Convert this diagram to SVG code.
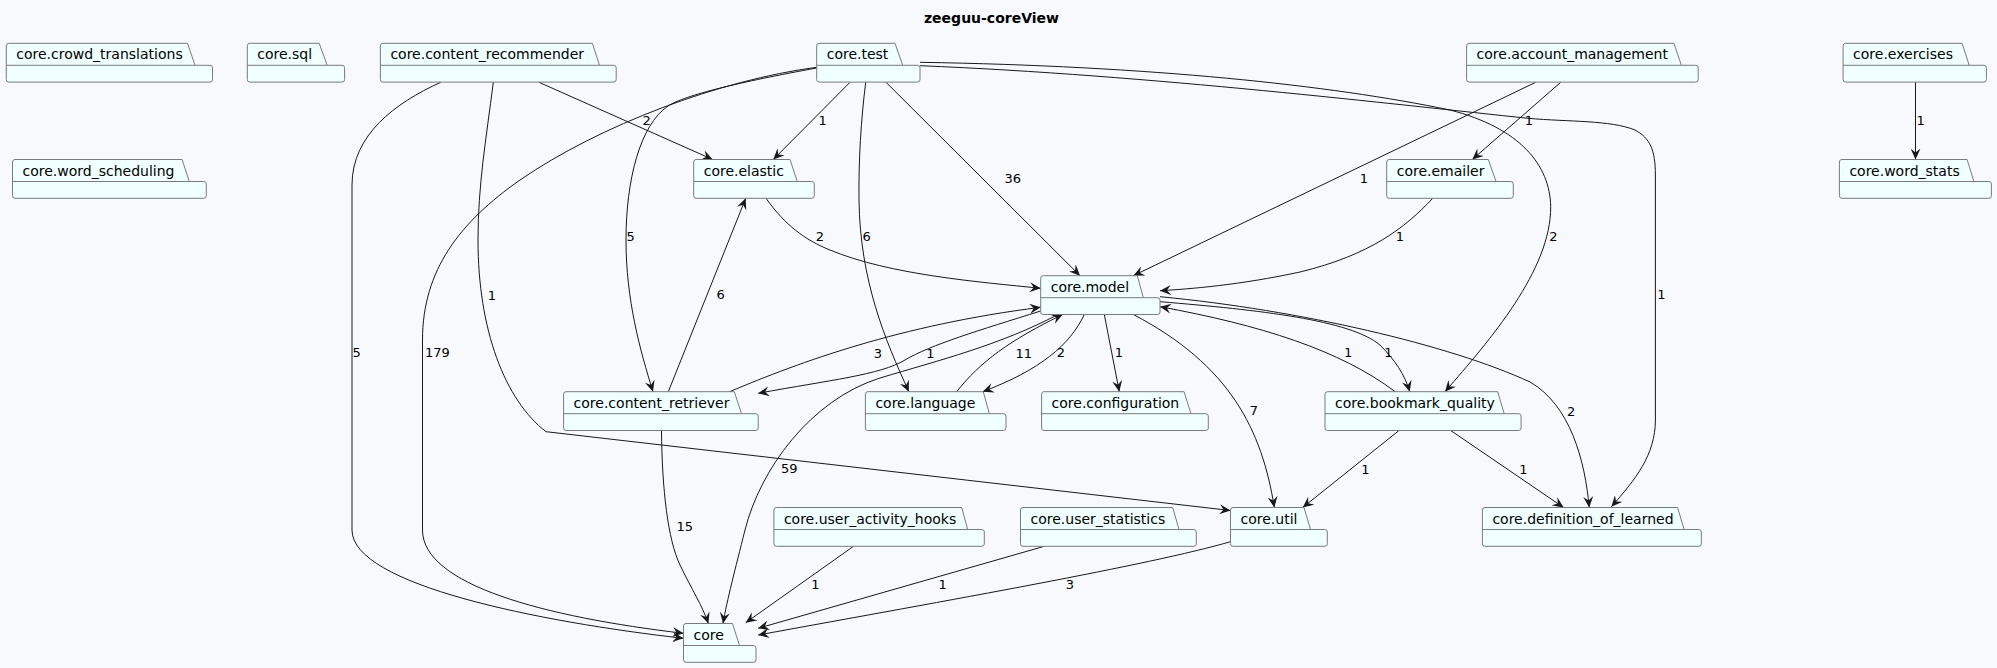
<svg xmlns="http://www.w3.org/2000/svg" width="1997" height="668" viewBox="0 0 1997 668">
<defs>
<style>
.pk{fill:#F0FFFF;stroke:#7A7A7A;stroke-width:1}
.sep{stroke:#7A7A7A;stroke-width:1}
.n{font-family:"DejaVu Sans","Liberation Sans",sans-serif;font-size:14px;fill:#000}
.e{fill:none;stroke:#181818;stroke-width:1;marker-end:url(#arr)}
.l{font-family:"DejaVu Sans","Liberation Sans",sans-serif;font-size:13px;fill:#000;text-anchor:middle}
.ls{font-family:"DejaVu Sans","Liberation Sans",sans-serif;font-size:13px;fill:#000}
.t{font-family:"DejaVu Sans","Liberation Sans",sans-serif;font-size:14px;font-weight:bold;fill:#000;text-anchor:middle}
</style>
<marker id="arr" markerUnits="userSpaceOnUse" markerWidth="11" markerHeight="10" viewBox="0 0 11 10" refX="11" refY="5" orient="auto">
<path d="M0,0 L11,5 L0,10 L4,5 Z" fill="#181818"/>
</marker>
</defs>
<rect width="1997" height="668" fill="#F7F9FD"/>
<text class="t" x="991.5" y="23">zeeguu-coreView</text>

<g id="connectors">
<path class="e" d="M440.7,82.3 C395,103 352,135 352,185 L352,530 C352,585 540,622 683.5,638.3"/>
<text class="ls" x="352.5" y="357">5</text>
<path class="e" d="M493.3,82.3 C486,140 478,185 478,240 C478,330 505,400 546,431.7 L1230.5,510.5"/>
<text class="l" x="492" y="299.5">1</text>
<path class="e" d="M539,82.3 L712.7,159.5"/>
<text class="l" x="646.7" y="125.2">2</text>
<path class="e" d="M816.7,67.3 C720,80 600,125 520,180 C460,222 422.5,270 422.5,340 L422.5,530 C422.5,585 545,617 683.5,633.3"/>
<text class="ls" x="425" y="357">179</text>
<path class="e" d="M816.7,68 C740,82 685,95 668,106 C640,125 626,180 626,240 C626,300 640,350 653,391.7"/>
<text class="l" x="630.7" y="241.2">5</text>
<path class="e" d="M850,82.3 L773.3,159.5"/>
<text class="l" x="822.7" y="125.2">1</text>
<path class="e" d="M865.7,82.3 C861,120 858.5,160 859,200 C860,280 885,340 908.9,391.7"/>
<text class="l" x="866.7" y="241.2">6</text>
<path class="e" d="M886,82.3 L1080,275.7"/>
<text class="l" x="1012.7" y="182.8">36</text>
<path class="e" d="M920,62.3 C1150,66 1330,85 1450,110 C1520,128 1550,165 1550.7,206.7 C1551,270 1490,340 1445,391.7"/>
<text class="l" x="1553.3" y="241.2">2</text>
<path class="e" d="M920,65.7 C1150,75 1400,105 1528,118.3 C1570,122 1610,120 1635,130 C1650,138 1655.4,150 1655.4,175 L1655.4,420 C1655.4,455 1635,480 1611.4,506.7"/>
<text class="ls" x="1657.3" y="298.8">1</text>
<path class="e" d="M1535.7,82.3 L1133.3,275.7"/>
<text class="l" x="1364" y="182.8">1</text>
<path class="e" d="M1560.7,82.3 L1472.3,159.5"/>
<text class="l" x="1529" y="125.2">1</text>
<path class="e" d="M1915.5,82.3 L1915.5,159.5"/>
<text class="ls" x="1916.5" y="125.2">1</text>
<path class="e" d="M1432.7,198.3 C1405,228 1370,255 1300,272 C1240,285 1190,289 1160,290.7"/>
<text class="l" x="1400" y="241.2">1</text>
<path class="e" d="M766,198.3 C785,225 805,240 830,250 C890,275 980,282 1040.7,288.3"/>
<text class="l" x="820" y="241.2">2</text>
<path class="e" d="M668.3,391.7 L745.7,198.3"/>
<text class="l" x="720.7" y="298.8">6</text>
<path class="e" d="M729.6,391.7 C800,362 900,325 1040.7,307.3"/>
<text class="l" x="877.8" y="357.8">3</text>
<path class="e" d="M1040.7,311 C980,330 930,345 905,360 C880,375 830,380 758.2,393.3"/>
<text class="l" x="930.4" y="357.8">1</text>
<path class="e" d="M956.7,391.7 C980,362 1010,340 1062.7,314.5"/>
<text class="l" x="1023.7" y="357.8">11</text>
<path class="e" d="M1084.3,314.5 C1070,345 1040,370 982.7,391.7"/>
<text class="l" x="1061" y="357.2">2</text>
<path class="e" d="M1104.3,314.5 L1119.3,391.7"/>
<text class="l" x="1119" y="357.2">1</text>
<path class="e" d="M1133.3,314.5 C1230,365 1262,430 1274.3,507.5"/>
<text class="l" x="1254" y="415.2">7</text>
<path class="e" d="M1058,314.5 C1000,345 940,360 880,378 C810,400 760,470 745,530 C735,570 727,600 723,623.5"/>
<text class="l" x="789.2" y="472.8">59</text>
<path class="e" d="M1160,301.7 C1260,310 1350,320 1380,345 C1395,360 1405,375 1409.7,391.7"/>
<text class="l" x="1388.3" y="357.2">1</text>
<path class="e" d="M1395.2,391.7 C1340,350 1260,325 1160,306.7"/>
<text class="l" x="1348.1" y="357.2">1</text>
<path class="e" d="M1160,296.7 C1300,310 1450,345 1530,382 C1570,405 1585,460 1589.2,507.5"/>
<text class="l" x="1571.2" y="415.5">2</text>
<path class="e" d="M1399,430.5 L1302.7,507.5"/>
<text class="l" x="1365.3" y="473.5">1</text>
<path class="e" d="M1450.7,430.5 L1563.6,507.5"/>
<text class="l" x="1523.4" y="473.5">1</text>
<path class="e" d="M661.5,430.5 C662,490 668,540 680,565 C692,590 702,605 708.4,623.5"/>
<text class="l" x="684.7" y="531.2">15</text>
<path class="e" d="M853.5,546.3 L745.7,622.7"/>
<text class="l" x="815.3" y="588.8">1</text>
<path class="e" d="M1044.3,546.3 L758.1,628.3"/>
<text class="l" x="942.7" y="588.8">1</text>
<path class="e" d="M1230.5,541.7 C1150,565 950,600 758.1,635"/>
<text class="l" x="1070" y="588.8">3</text>
</g>

<g id="core_crowd_translations"><path class="pk" d="M6.3,45.8 Q6.3,43.3 8.8,43.3 L187.5,43.3 L195,65.3 L210,65.3 Q212.5,65.3 212.5,67.8 L212.5,79.6 Q212.5,82.1 210,82.1 L8.8,82.1 Q6.3,82.1 6.3,79.6 Z"/><line class="sep" x1="6.3" y1="65.3" x2="195" y2="65.3"/><text class="n" x="16.3" y="59.3">core.crowd_translations</text></g>
<g id="core_sql"><path class="pk" d="M247.3,45.8 Q247.3,43.3 249.8,43.3 L319.2,43.3 L327.2,65.3 L342.1,65.3 Q344.6,65.3 344.6,67.8 L344.6,79.6 Q344.6,82.1 342.1,82.1 L249.8,82.1 Q247.3,82.1 247.3,79.6 Z"/><line class="sep" x1="247.3" y1="65.3" x2="327.2" y2="65.3"/><text class="n" x="257.3" y="59.3">core.sql</text></g>
<g id="core_content_recommender"><path class="pk" d="M380.4,45.8 Q380.4,43.3 382.9,43.3 L592.4,43.3 L599.5,65.3 L613.7,65.3 Q616.2,65.3 616.2,67.8 L616.2,79.6 Q616.2,82.1 613.7,82.1 L382.9,82.1 Q380.4,82.1 380.4,79.6 Z"/><line class="sep" x1="380.4" y1="65.3" x2="599.5" y2="65.3"/><text class="n" x="390.4" y="59.3">core.content_recommender</text></g>
<g id="core_test"><path class="pk" d="M816.7,45.8 Q816.7,43.3 819.2,43.3 L895,43.3 L902.7,65.3 L917.5,65.3 Q920,65.3 920,67.8 L920,79.6 Q920,82.1 917.5,82.1 L819.2,82.1 Q816.7,82.1 816.7,79.6 Z"/><line class="sep" x1="816.7" y1="65.3" x2="902.7" y2="65.3"/><text class="n" x="826.7" y="59.3">core.test</text></g>
<g id="core_account_management"><path class="pk" d="M1466.6,45.8 Q1466.6,43.3 1469.1,43.3 L1673.9,43.3 L1681.4,65.3 L1695.7,65.3 Q1698.2,65.3 1698.2,67.8 L1698.2,79.6 Q1698.2,82.1 1695.7,82.1 L1469.1,82.1 Q1466.6,82.1 1466.6,79.6 Z"/><line class="sep" x1="1466.6" y1="65.3" x2="1681.4" y2="65.3"/><text class="n" x="1476.6" y="59.3">core.account_management</text></g>
<g id="core_exercises"><path class="pk" d="M1843.1,45.8 Q1843.1,43.3 1845.6,43.3 L1962.1,43.3 L1969.2,65.3 L1983.9,65.3 Q1986.4,65.3 1986.4,67.8 L1986.4,79.6 Q1986.4,82.1 1983.9,82.1 L1845.6,82.1 Q1843.1,82.1 1843.1,79.6 Z"/><line class="sep" x1="1843.1" y1="65.3" x2="1969.2" y2="65.3"/><text class="n" x="1853.1" y="59.3">core.exercises</text></g>
<g id="core_word_scheduling"><path class="pk" d="M12.5,162 Q12.5,159.5 15,159.5 L182.1,159.5 L189.3,181.5 L203.8,181.5 Q206.3,181.5 206.3,184 L206.3,195.8 Q206.3,198.3 203.8,198.3 L15,198.3 Q12.5,198.3 12.5,195.8 Z"/><line class="sep" x1="12.5" y1="181.5" x2="189.3" y2="181.5"/><text class="n" x="22.5" y="175.5">core.word_scheduling</text></g>
<g id="core_elastic"><path class="pk" d="M693.7,162 Q693.7,159.5 696.2,159.5 L790,159.5 L797.3,181.5 L811.8,181.5 Q814.3,181.5 814.3,184 L814.3,195.8 Q814.3,198.3 811.8,198.3 L696.2,198.3 Q693.7,198.3 693.7,195.8 Z"/><line class="sep" x1="693.7" y1="181.5" x2="797.3" y2="181.5"/><text class="n" x="703.7" y="175.5">core.elastic</text></g>
<g id="core_emailer"><path class="pk" d="M1386.7,162 Q1386.7,159.5 1389.2,159.5 L1488.3,159.5 L1496,181.5 L1510.8,181.5 Q1513.3,181.5 1513.3,184 L1513.3,195.8 Q1513.3,198.3 1510.8,198.3 L1389.2,198.3 Q1386.7,198.3 1386.7,195.8 Z"/><line class="sep" x1="1386.7" y1="181.5" x2="1496" y2="181.5"/><text class="n" x="1396.7" y="175.5">core.emailer</text></g>
<g id="core_word_stats"><path class="pk" d="M1839.4,162 Q1839.4,159.5 1841.9,159.5 L1967.1,159.5 L1973.9,181.5 L1988.9,181.5 Q1991.4,181.5 1991.4,184 L1991.4,195.8 Q1991.4,198.3 1988.9,198.3 L1841.9,198.3 Q1839.4,198.3 1839.4,195.8 Z"/><line class="sep" x1="1839.4" y1="181.5" x2="1973.9" y2="181.5"/><text class="n" x="1849.4" y="175.5">core.word_stats</text></g>
<g id="core_model"><path class="pk" d="M1040.7,278.2 Q1040.7,275.7 1043.2,275.7 L1137.3,275.7 L1143.3,297.7 L1157.5,297.7 Q1160,297.7 1160,300.2 L1160,312 Q1160,314.5 1157.5,314.5 L1043.2,314.5 Q1040.7,314.5 1040.7,312 Z"/><line class="sep" x1="1040.7" y1="297.7" x2="1143.3" y2="297.7"/><text class="n" x="1050.7" y="291.7">core.model</text></g>
<g id="core_content_retriever"><path class="pk" d="M563.6,394.2 Q563.6,391.7 566.1,391.7 L734.3,391.7 L741.5,413.7 L755.7,413.7 Q758.2,413.7 758.2,416.2 L758.2,428 Q758.2,430.5 755.7,430.5 L566.1,430.5 Q563.6,430.5 563.6,428 Z"/><line class="sep" x1="563.6" y1="413.7" x2="741.5" y2="413.7"/><text class="n" x="573.6" y="407.7">core.content_retriever</text></g>
<g id="core_language"><path class="pk" d="M865.4,394.2 Q865.4,391.7 867.9,391.7 L983.3,391.7 L989.3,413.7 L1003.5,413.7 Q1006,413.7 1006,416.2 L1006,428 Q1006,430.5 1003.5,430.5 L867.9,430.5 Q865.4,430.5 865.4,428 Z"/><line class="sep" x1="865.4" y1="413.7" x2="989.3" y2="413.7"/><text class="n" x="875.4" y="407.7">core.language</text></g>
<g id="core_configuration"><path class="pk" d="M1041.6,394.2 Q1041.6,391.7 1044.1,391.7 L1184,391.7 L1191,413.7 L1205.8,413.7 Q1208.3,413.7 1208.3,416.2 L1208.3,428 Q1208.3,430.5 1205.8,430.5 L1044.1,430.5 Q1041.6,430.5 1041.6,428 Z"/><line class="sep" x1="1041.6" y1="413.7" x2="1191" y2="413.7"/><text class="n" x="1051.6" y="407.7">core.configuration</text></g>
<g id="core_bookmark_quality"><path class="pk" d="M1325,394.2 Q1325,391.7 1327.5,391.7 L1497.7,391.7 L1504.2,413.7 L1518.6,413.7 Q1521.1,413.7 1521.1,416.2 L1521.1,428 Q1521.1,430.5 1518.6,430.5 L1327.5,430.5 Q1325,430.5 1325,428 Z"/><line class="sep" x1="1325" y1="413.7" x2="1504.2" y2="413.7"/><text class="n" x="1335" y="407.7">core.bookmark_quality</text></g>
<g id="core_user_activity_hooks"><path class="pk" d="M773.9,510 Q773.9,507.5 776.4,507.5 L961.7,507.5 L967.7,529.5 L981.8,529.5 Q984.3,529.5 984.3,532 L984.3,543.8 Q984.3,546.3 981.8,546.3 L776.4,546.3 Q773.9,546.3 773.9,543.8 Z"/><line class="sep" x1="773.9" y1="529.5" x2="967.7" y2="529.5"/><text class="n" x="783.9" y="523.5">core.user_activity_hooks</text></g>
<g id="core_user_statistics"><path class="pk" d="M1020.5,510 Q1020.5,507.5 1023,507.5 L1172.7,507.5 L1179,529.5 L1193.8,529.5 Q1196.3,529.5 1196.3,532 L1196.3,543.8 Q1196.3,546.3 1193.8,546.3 L1023,546.3 Q1020.5,546.3 1020.5,543.8 Z"/><line class="sep" x1="1020.5" y1="529.5" x2="1179" y2="529.5"/><text class="n" x="1030.5" y="523.5">core.user_statistics</text></g>
<g id="core_util"><path class="pk" d="M1230.5,510 Q1230.5,507.5 1233,507.5 L1304,507.5 L1310.5,529.5 L1324.8,529.5 Q1327.3,529.5 1327.3,532 L1327.3,543.8 Q1327.3,546.3 1324.8,546.3 L1233,546.3 Q1230.5,546.3 1230.5,543.8 Z"/><line class="sep" x1="1230.5" y1="529.5" x2="1310.5" y2="529.5"/><text class="n" x="1240.5" y="523.5">core.util</text></g>
<g id="core_definition_of_learned"><path class="pk" d="M1482.4,510 Q1482.4,507.5 1484.9,507.5 L1677.6,507.5 L1684.1,529.5 L1698.8,529.5 Q1701.3,529.5 1701.3,532 L1701.3,543.8 Q1701.3,546.3 1698.8,546.3 L1484.9,546.3 Q1482.4,546.3 1482.4,543.8 Z"/><line class="sep" x1="1482.4" y1="529.5" x2="1684.1" y2="529.5"/><text class="n" x="1492.4" y="523.5">core.definition_of_learned</text></g>
<g id="core"><path class="pk" d="M683.5,626 Q683.5,623.5 686,623.5 L732.4,623.5 L739.5,645.5 L753.5,645.5 Q756,645.5 756,648 L756,659.8 Q756,662.3 753.5,662.3 L686,662.3 Q683.5,662.3 683.5,659.8 Z"/><line class="sep" x1="683.5" y1="645.5" x2="739.5" y2="645.5"/><text class="n" x="693.5" y="639.5">core</text></g>
</svg>
